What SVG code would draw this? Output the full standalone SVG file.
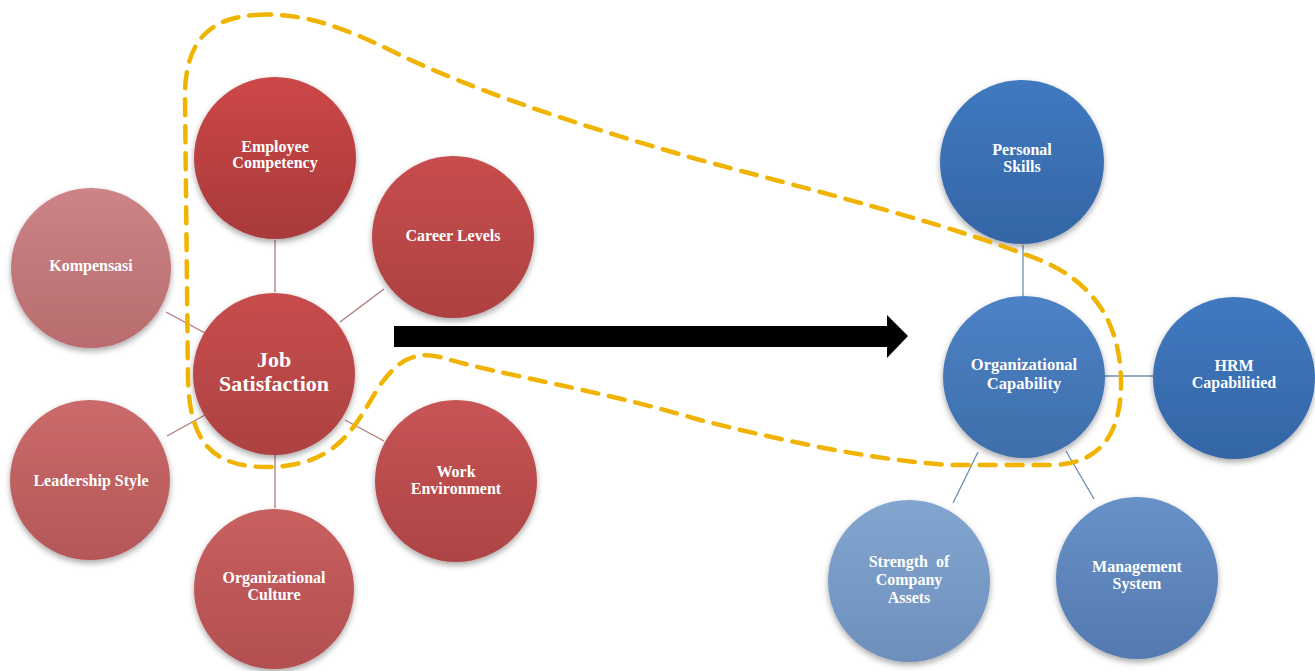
<svg xmlns="http://www.w3.org/2000/svg" width="1315" height="671" viewBox="0 0 1315 671">
<style>
.lbl{font-family:"Liberation Serif","DejaVu Serif",serif;font-weight:bold;font-size:16px;fill:#ffffff;text-anchor:middle}
.big{font-size:22px}
.lr{stroke:#b07878;stroke-width:1.3;fill:none}
.lb{stroke:#6d8bb3;stroke-width:1.3;fill:none}
.node circle{filter:url(#sh)}
</style>
<defs>
<filter id="sh" x="-20%" y="-20%" width="140%" height="145%">
<feGaussianBlur in="SourceAlpha" stdDeviation="3"/>
<feOffset dy="3" result="b"/>
<feComponentTransfer><feFuncA type="linear" slope="0.35"/></feComponentTransfer>
<feMerge><feMergeNode/><feMergeNode in="SourceGraphic"/></feMerge>
</filter>
<linearGradient id="gr1" x1="0" y1="0" x2="0" y2="1"><stop offset="0" stop-color="#cd4747"/><stop offset="1" stop-color="#a83a3a"/></linearGradient>
<linearGradient id="gr2" x1="0" y1="0" x2="0" y2="1"><stop offset="0" stop-color="#c84d4d"/><stop offset="1" stop-color="#ad4141"/></linearGradient>
<linearGradient id="gr3" x1="0" y1="0" x2="0" y2="1"><stop offset="0" stop-color="#cc8486"/><stop offset="1" stop-color="#b86c6e"/></linearGradient>
<linearGradient id="gr4" x1="0" y1="0" x2="0" y2="1"><stop offset="0" stop-color="#cb6a6a"/><stop offset="1" stop-color="#b45758"/></linearGradient>
<linearGradient id="gr5" x1="0" y1="0" x2="0" y2="1"><stop offset="0" stop-color="#c95f60"/><stop offset="1" stop-color="#b24f50"/></linearGradient>
<linearGradient id="gr6" x1="0" y1="0" x2="0" y2="1"><stop offset="0" stop-color="#c85455"/><stop offset="1" stop-color="#ad4445"/></linearGradient>
<linearGradient id="gb1" x1="0" y1="0" x2="0" y2="1"><stop offset="0" stop-color="#4079c0"/><stop offset="1" stop-color="#3465a5"/></linearGradient>
<linearGradient id="gb2" x1="0" y1="0" x2="0" y2="1"><stop offset="0" stop-color="#4d82c6"/><stop offset="1" stop-color="#3e6eaa"/></linearGradient>
<linearGradient id="gb3" x1="0" y1="0" x2="0" y2="1"><stop offset="0" stop-color="#82a6d0"/><stop offset="1" stop-color="#6d8fbc"/></linearGradient>
<linearGradient id="gb4" x1="0" y1="0" x2="0" y2="1"><stop offset="0" stop-color="#6792c8"/><stop offset="1" stop-color="#5479b0"/></linearGradient>
</defs>
<rect width="1315" height="671" fill="#ffffff"/>

<g id="connectors">
<line class="lr" x1="275" y1="240" x2="275" y2="292"/>
<line class="lr" x1="384" y1="289" x2="340" y2="322"/>
<line class="lr" x1="166" y1="312" x2="205" y2="333"/>
<line class="lr" x1="167" y1="436" x2="205" y2="415"/>
<line class="lr" x1="275" y1="454" x2="275" y2="508"/>
<line class="lr" x1="345" y1="420" x2="384" y2="441"/>
<line class="lb" x1="1023" y1="245" x2="1023" y2="297"/>
<line class="lb" x1="1105" y1="376" x2="1153" y2="376"/>
<line class="lb" x1="978" y1="452" x2="953" y2="503"/>
<line class="lb" x1="1066" y1="451" x2="1094" y2="499"/>
<path id="arrow" d="M394,326 H887 V315 L908,336 L887,358 V347 H394 Z" fill="#000000"/>
</g>

<g id="n-employee" class="node"><circle cx="275" cy="158" r="81" fill="url(#gr1)"/><text class="lbl" x="275" y="152">Employee</text><text class="lbl" x="275" y="168">Competency</text></g>
<g id="n-career" class="node"><circle cx="453" cy="237" r="81" fill="url(#gr2)"/><text class="lbl" x="453" y="241">Career Levels</text></g>
<g id="n-kompensasi" class="node"><circle cx="91" cy="268" r="80" fill="url(#gr3)"/><text class="lbl" x="91" y="271">Kompensasi</text></g>
<g id="n-job" class="node"><circle cx="274" cy="374" r="81" fill="url(#gr2)"/><text class="lbl big" x="274" y="367">Job</text><text class="lbl big" x="274" y="391">Satisfaction</text></g>
<g id="n-leadership" class="node"><circle cx="90" cy="480" r="80" fill="url(#gr4)"/><text class="lbl" x="91" y="486">Leadership Style</text></g>
<g id="n-culture" class="node"><circle cx="274" cy="589" r="80" fill="url(#gr5)"/><text class="lbl" x="274" y="583">Organizational</text><text class="lbl" x="274" y="600">Culture</text></g>
<g id="n-workenv" class="node"><circle cx="456" cy="481" r="81" fill="url(#gr6)"/><text class="lbl" x="456" y="477">Work</text><text class="lbl" x="456" y="494">Environment</text></g>

<g id="n-personal" class="node"><circle cx="1022" cy="162" r="82" fill="url(#gb1)"/><text class="lbl" x="1022" y="155">Personal</text><text class="lbl" x="1022" y="172">Skills</text></g>
<g id="n-orgcap" class="node"><circle cx="1024" cy="377" r="81" fill="url(#gb2)"/><text class="lbl" x="1024" y="370" style="font-size:16.5px">Organizational</text><text class="lbl" x="1024" y="389" style="font-size:16.5px">Capability</text></g>
<g id="n-hrm" class="node"><circle cx="1234" cy="378" r="81" fill="url(#gb1)"/><text class="lbl" x="1234" y="371">HRM</text><text class="lbl" x="1234" y="388">Capabilitied</text></g>
<g id="n-strength" class="node"><circle cx="909" cy="581" r="81" fill="url(#gb3)"/><text class="lbl" x="909" y="567" xml:space="preserve">Strength  of</text><text class="lbl" x="909" y="585">Company</text><text class="lbl" x="909" y="603">Assets</text></g>
<g id="n-mgmt" class="node"><circle cx="1137" cy="578" r="81" fill="url(#gb4)"/><text class="lbl" x="1137" y="572">Management</text><text class="lbl" x="1137" y="589">System</text></g>

<path id="boundary" d="M255,15 C300,12 340,25 400,55 C470,88 560,120 700,160 C850,200 950,225 1040,260 C1100,285 1120,330 1121,380 C1122,440 1095,465 1050,465 L950,465 C870,460 780,440 700,420 C600,390 500,375 440,357 C410,350 395,365 380,385 C355,425 340,465 270,467 C210,468 190,440 188,380 L185,100 C184,40 210,18 255,15 Z" fill="none" stroke="#f0b400" stroke-width="4.5" stroke-dasharray="16 11" stroke-linecap="round"/>
</svg>
